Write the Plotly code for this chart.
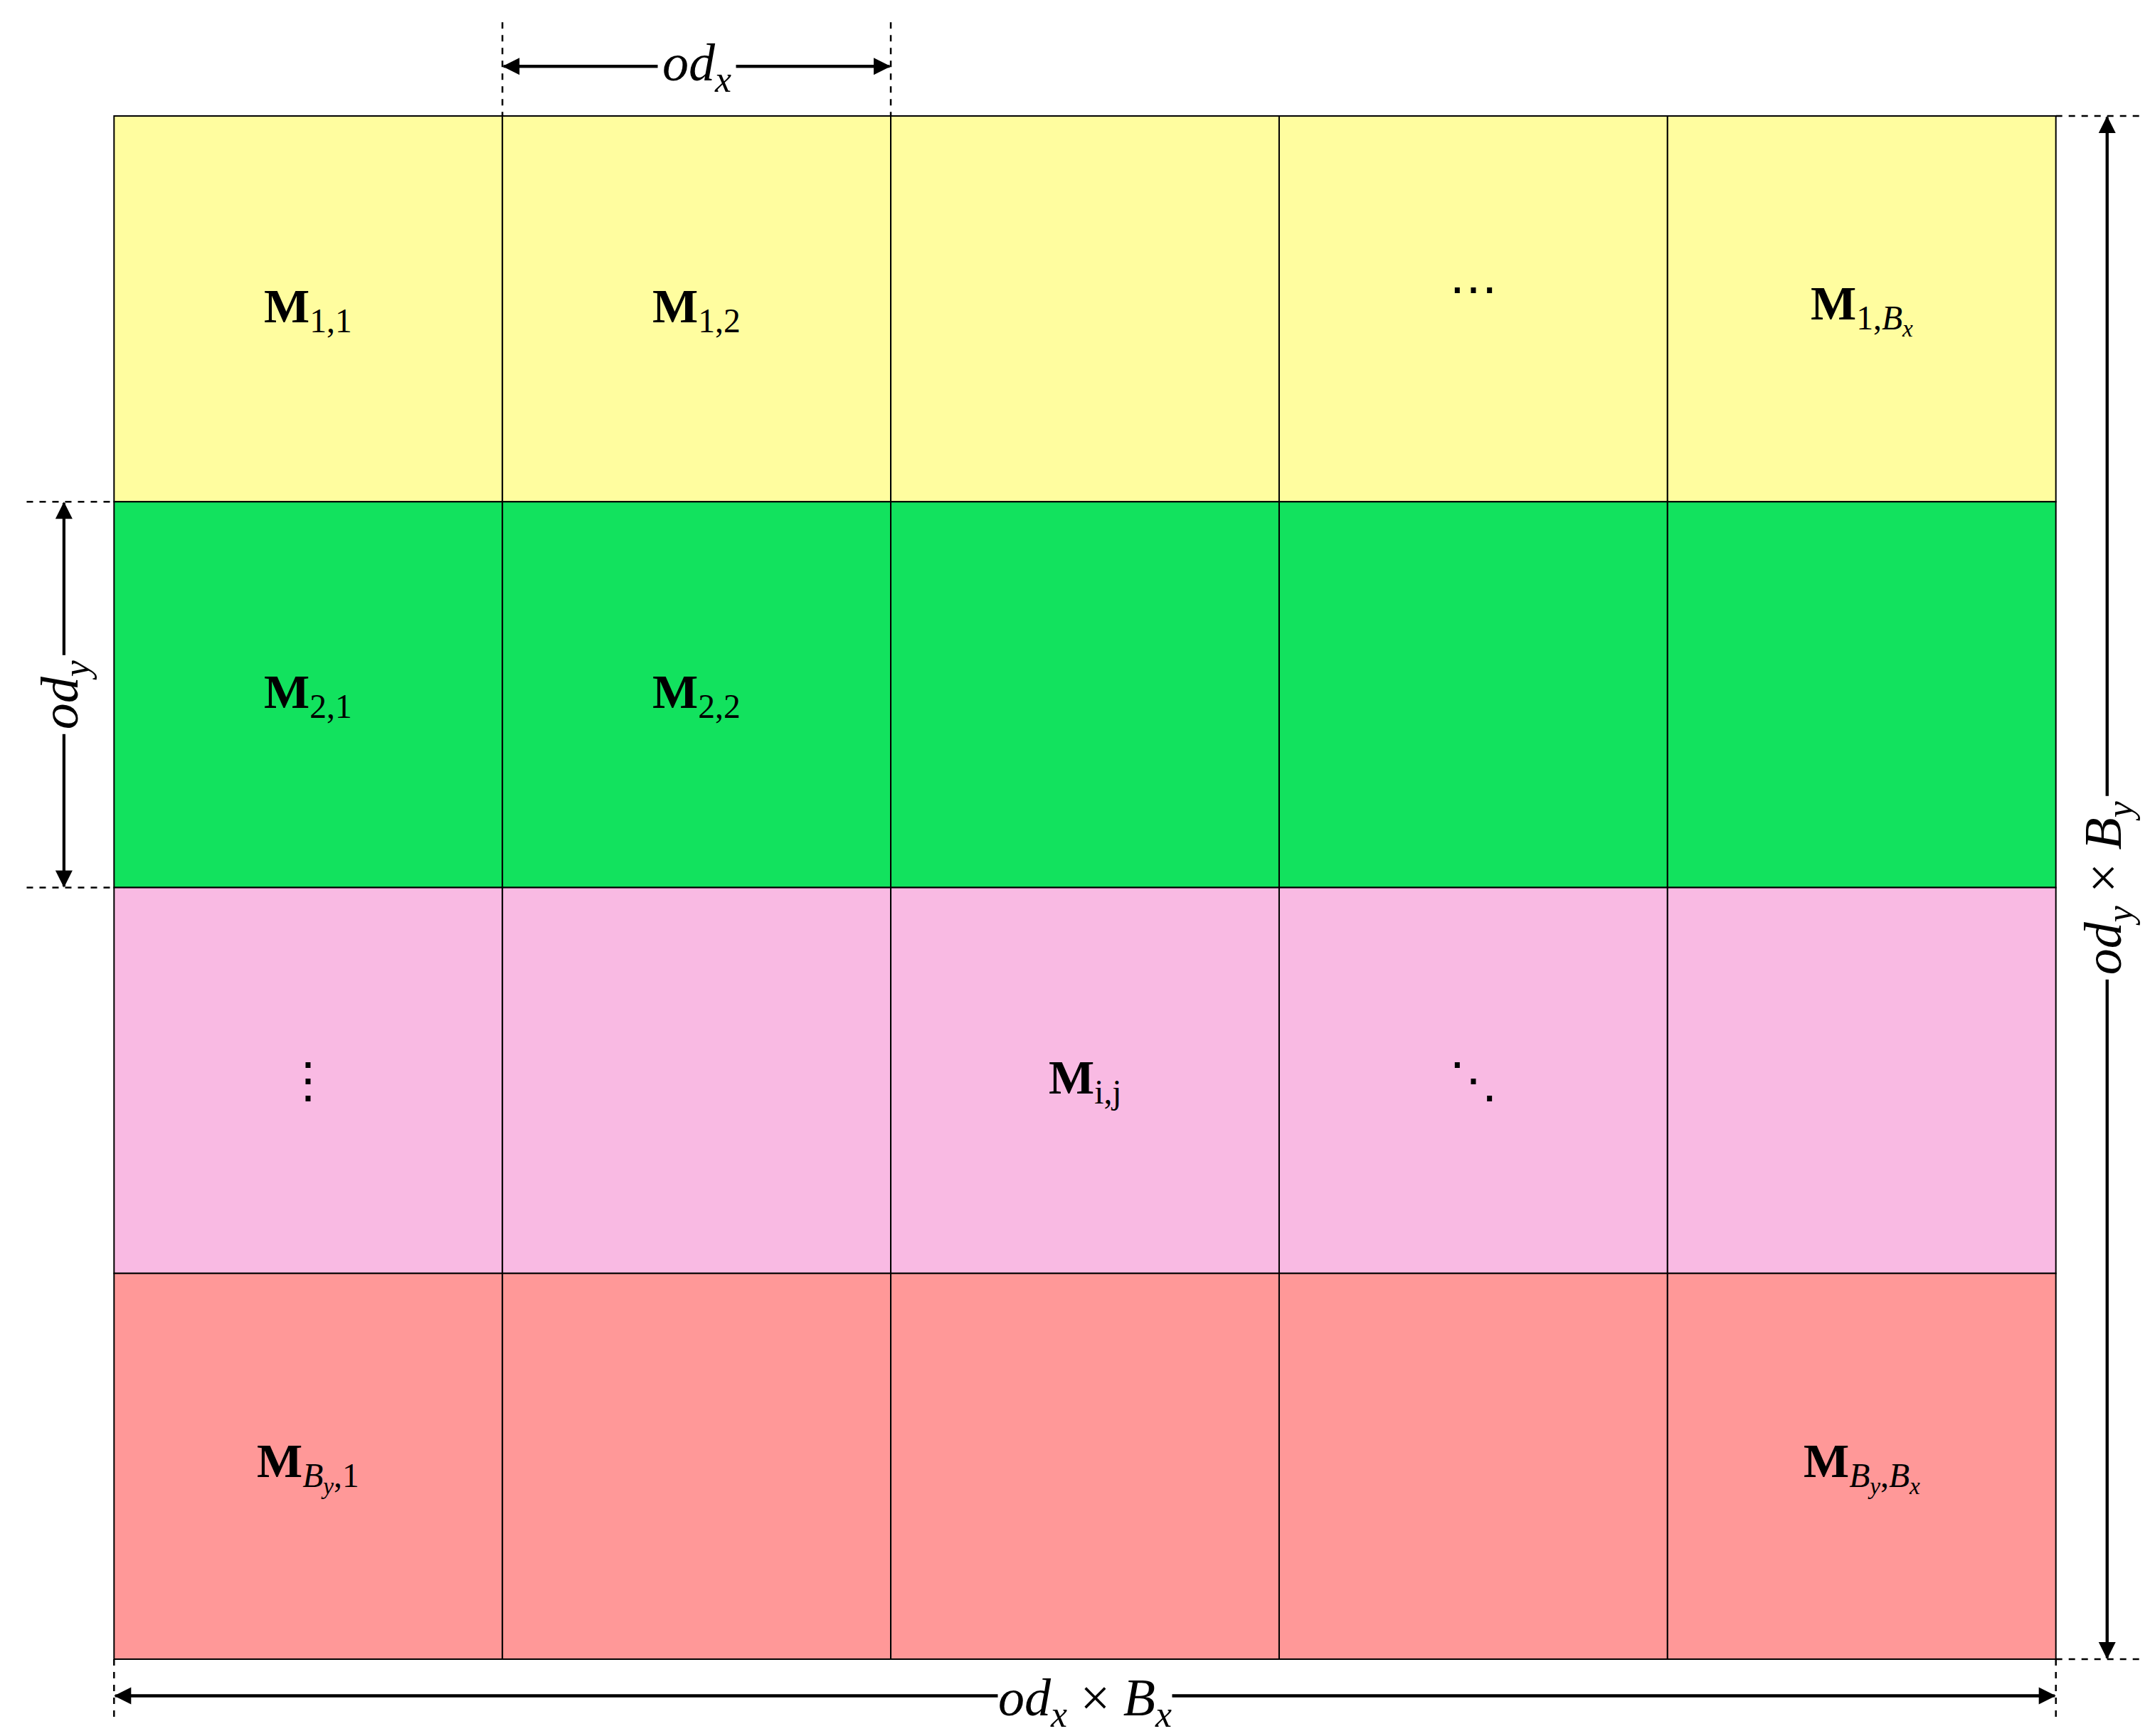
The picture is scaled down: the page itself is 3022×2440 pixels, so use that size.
import plotly.graph_objects as go

n_cols = 5
n_rows = 4
row_colors = ["#FFFD9F", "#12E25E", "#F9BAE3", "#FF9898"]
cell_labels = [
    (0, 0, "<b>M</b><sub>1,1</sub>"),
    (0, 1, "<b>M</b><sub>1,2</sub>"),
    (0, 3, "⋯"),
    (0, 4, "<b>M</b><sub>1,<i>B<sub>x</sub></i></sub>"),
    (1, 0, "<b>M</b><sub>2,1</sub>"),
    (1, 1, "<b>M</b><sub>2,2</sub>"),
    (2, 0, "⋮"),
    (2, 2, "<b>M</b><sub>i,j</sub>"),
    (2, 3, "⋱"),
    (3, 0, "<b>M</b><sub><i>B<sub>y</sub></i>,1</sub>"),
    (3, 4, "<b>M</b><sub><i>B<sub>y</sub></i>,<i>B<sub>x</sub></i></sub>"),
]

FONT = "Liberation Serif"
fig = go.Figure()
shapes = []
for r in range(n_rows):
    for c in range(n_cols):
        shapes.append(dict(type="rect", x0=c, x1=c + 1, y0=r, y1=r + 1,
                           fillcolor=row_colors[r], line=dict(color="black", width=2), layer="below"))

dash = dict(color="black", width=2.5, dash="dash")
shapes += [
    dict(type="line", x0=1, x1=1, y0=-0.243, y1=0, line=dash),
    dict(type="line", x0=2, x1=2, y0=-0.243, y1=0, line=dash),
    dict(type="line", x0=-0.225, x1=0, y0=1, y1=1, line=dash),
    dict(type="line", x0=-0.225, x1=0, y0=2, y1=2, line=dash),
    dict(type="line", x0=5, x1=5.221, y0=0, y1=0, line=dash),
    dict(type="line", x0=5, x1=5.221, y0=4, y1=4, line=dash),
    dict(type="line", x0=0, x1=0, y0=4, y1=4.16, line=dash),
    dict(type="line", x0=5, x1=5, y0=4, y1=4.16, line=dash),
]

anns = []
for r, c, t in cell_labels:
    dy = -0.05 if t == "⋯" else 0
    anns.append(dict(x=c + 0.5, y=r + 0.5 + dy, text=t, showarrow=False,
                     font=dict(family=FONT, size=68, color="black")))

def darrow(x0, y0, x1, y1):
    for (a, b, c, d) in [(x0, y0, x1, y1), (x1, y1, x0, y0)]:
        anns.append(dict(x=a, y=b, ax=c, ay=d, xref="x", yref="y", axref="x", ayref="y",
                         text="", showarrow=True, arrowhead=2, arrowsize=1.2, arrowwidth=4,
                         arrowcolor="black"))

darrow(1, -0.129, 2, -0.129)
darrow(-0.129, 1, -0.129, 2)
darrow(5.132, 0, 5.132, 4)
darrow(0, 4.095, 5, 4.095)

lab = dict(family=FONT, size=74, color="black")
anns += [
    dict(x=1.5, y=-0.129, text="<i>od<sub>x</sub></i>", showarrow=False, font=lab, bgcolor="white", borderpad=6),
    dict(x=-0.129, y=1.5, text="<i>od<sub>y</sub></i>", showarrow=False, font=lab, bgcolor="white", textangle=-90, borderpad=6),
    dict(x=5.132, y=2, text="<i>od<sub>y</sub></i> × <i>B<sub>y</sub></i>", showarrow=False, font=lab, bgcolor="white", textangle=-90, borderpad=6),
    dict(x=2.5, y=4.11, text="<i>od<sub>x</sub></i> × <i>B<sub>x</sub></i>", showarrow=False, font=lab, bgcolor="white", borderpad=0),
]

fig.update_layout(
    width=3022, height=2440, margin=dict(l=0, r=0, t=0, b=0),
    paper_bgcolor="white", plot_bgcolor="white",
    shapes=shapes, annotations=anns, showlegend=False,
    xaxis=dict(range=[-0.279, 5.257], visible=False, fixedrange=True),
    yaxis=dict(range=[4.214, -0.286], visible=False, fixedrange=True),
)
fig.write_html("out.html")
